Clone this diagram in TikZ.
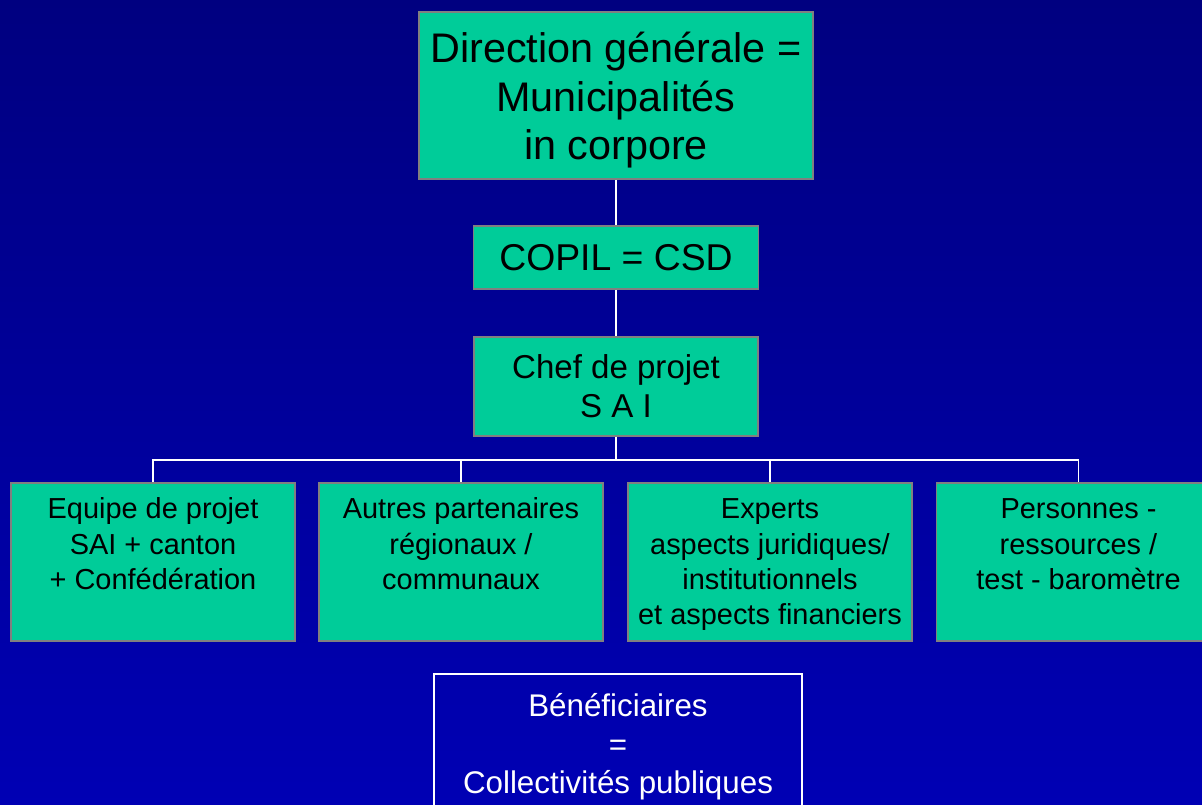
\documentclass[tikz,border=0pt]{standalone}
\usepackage{fontspec}
\setmainfont{Liberation Sans}

\definecolor{orgteal}{RGB}{0,204,153}
\definecolor{orggray}{RGB}{128,128,128}
\definecolor{bgtop}{RGB}{0,0,128}
\definecolor{bgbottom}{RGB}{0,0,180}

\tikzstyle{orgbox} = [draw=orggray, line width=1.4pt, fill=orgteal, inner sep=0pt, align=center, text=black]
\tikzstyle{rowbox} = [orgbox, minimum width=213pt, minimum height=118.5pt, font=\fontsize{21.7}{26.5}\selectfont]
\tikzstyle{link} = [draw=white, line width=1.2pt]

\begin{document}
\begin{tikzpicture}[x=0.75pt,y=-0.75pt]
	\useasboundingbox (0,0) rectangle (1202,805);
	\clip (0,0) rectangle (1202,805);
	\shade[top color=bgtop, bottom color=bgbottom] (0,0) rectangle (1202,805);

	\node[orgbox, minimum width=295.5pt, minimum height=125.25pt, font=\fontsize{31}{36.5}\selectfont] (direction) at (616,95.5) {\rule{0pt}{30pt}Direction générale =\\Municipalités\\in corpore};
	\node[orgbox, minimum width=213.75pt, minimum height=47.25pt, font=\fontsize{28}{33}\selectfont] (copil) at (616,257.5) {COPIL = CSD};
	\node[orgbox, minimum width=213.3pt, minimum height=74.5pt, font=\fontsize{24.8}{29.5}\selectfont] (chef) at (616,386.3) {Chef de projet\\S A I};

	\node[rowbox] (equipe) at (153,562) {\rule{0pt}{19pt}Equipe de projet\\SAI + canton\\+ Confédération\\\vphantom{p}};
	\node[rowbox] (partenaires) at (461,562) {\rule{0pt}{19pt}Autres partenaires\\régionaux /\\communaux\\\vphantom{p}};
	\node[rowbox] (experts) at (770,562) {\rule{0pt}{19pt}Experts\\aspects juridiques/\\institutionnels\\et aspects financiers};
	\node[rowbox] (personnes) at (1078.5,562) {\rule{0pt}{19pt}Personnes -\\ressources /\\test - baromètre\\\vphantom{p}};

	\node[draw=white, line width=1.2pt, inner sep=0pt, minimum width=276pt, minimum height=109pt, align=center, text=white, font=\fontsize{23.5}{28.9}\selectfont] (benef) at (618,746.8) {Bénéficiaires\\=\\Collectivités publiques};

	\coordinate (bus) at (616,460);
	\draw[link] (direction) -- (copil);
	\draw[link] (copil) -- (chef);
	\draw[link] (chef) -- (bus);
	\draw[link] (equipe.north) |- (bus);
	\draw[link] (partenaires.north) |- (bus);
	\draw[link] (experts.north) |- (bus);
	\draw[link] (personnes.north) |- (bus);
\end{tikzpicture}
\end{document}
